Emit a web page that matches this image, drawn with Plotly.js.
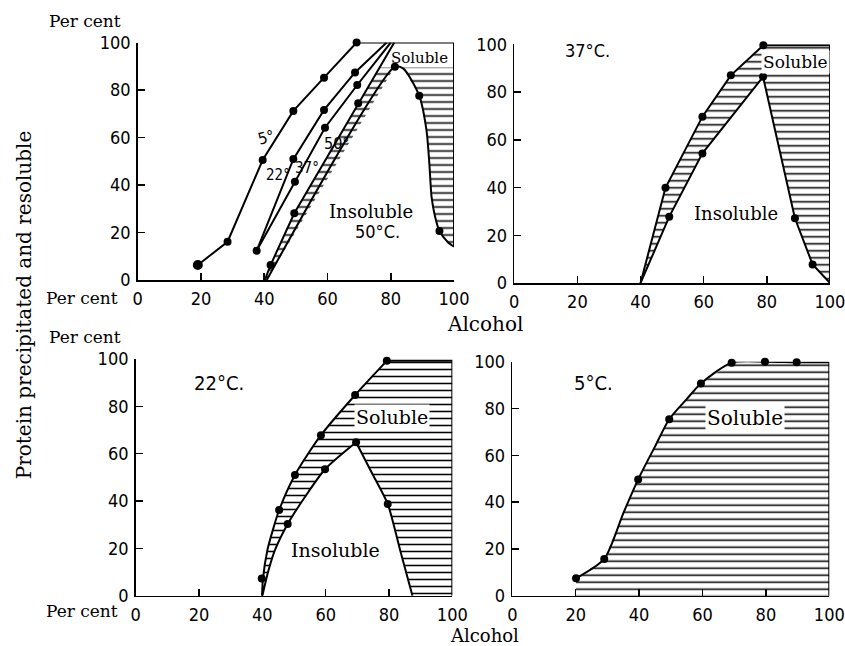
<!DOCTYPE html>
<html><head><meta charset="utf-8">
<script src="https://cdn.plot.ly/plotly-3.0.1.min.js"></script>
<style>html,body{margin:0;padding:0;background:#fff}#chart{width:845px;height:646px}</style>
</head><body><div id="chart"></div><script>
// ---------- DATA (alcohol %, protein %) ----------
var tickValues = [0, 20, 40, 60, 80, 100];
var tickLabels = ["0", "20", "40", "60", "80", "100"];

// Panel 1: precipitation curves at 5, 22, 37, 50 deg and 50 deg resolution
var p1_5_x  = [19, 28.4, 39.5, 49.2, 58.9, 69.2];
var p1_5_y  = [6.3, 16.1, 50.5, 71.2, 85.2, 100];
var p1_22_x = [37.6, 49.2, 58.9, 68.7, 78.7];
var p1_22_y = [12.3, 50.9, 71.6, 87.4, 100];
var p1_37_x = [37.6, 49.7, 59.2, 69.4, 80];
var p1_37_y = [12.3, 41.4, 64.1, 82.1, 100];
var p1_50_x = [40.2, 42, 49.5, 69.7, 81.1];
var p1_50_y = [0, 6.3, 28.1, 74.4, 100];
var p1_res_x = [40.8, 81.3, 84, 89, 91.3, 92.2, 92.9, 94, 95.4, 98, 100];
var p1_res_y = [0, 89.8, 89, 77.6, 63, 49, 35, 26.7, 20.6, 16, 14];
var p1_res_dots_x = [81.3, 89, 95.4];
var p1_res_dots_y = [89.8, 77.6, 20.6];
var p1_box_x = [69.2, 100, 100];
var p1_box_y = [100, 100, 14];
var p1_soluble_floor_x = [76.4, 100];
var p1_soluble_floor_y = [89.5, 89.5];

// Panel 2: 37 C
var p2_up_x = [40, 47.9, 59.6, 68.6, 78.9];
var p2_up_y = [0, 39.9, 69.7, 87, 99.6];
var p2_low_x = [40, 49.1, 59.6, 78.8, 88.9, 94.5, 100];
var p2_low_y = [0, 27.8, 54.3, 86.4, 27.1, 7.8, 0];
var p2_box_x = [78.9, 100, 100];
var p2_box_y = [99.6, 99.6, 0];

// Panel 3: 22 C
var p3_up_x = [39.9, 40.2, 41.6, 43.3, 45.3, 50.3, 58.5, 69.3, 79.3];
var p3_up_y = [0, 7.3, 19.3, 27.7, 36.2, 51, 67.8, 84.8, 99.2];
var p3_up_dots_x = [39.8, 45.3, 50.3, 58.5, 69.3, 79.3];
var p3_up_dots_y = [7.3, 36.2, 51, 67.8, 84.8, 99.2];
var p3_asc_x = [40, 41.8, 44, 48, 53.5, 59.8, 69.6];
var p3_asc_y = [0, 10, 19.3, 30.3, 41.8, 53.4, 64.8];
var p3_desc_x = [69.6, 74.6, 79.6, 83.5, 87.4];
var p3_desc_y = [64.8, 51.8, 38.7, 19.3, 0];
var p3_low_dots_x = [48, 59.8, 69.6, 79.6];
var p3_low_dots_y = [30.3, 53.4, 64.8, 38.7];
var p3_box_x = [79.3, 100, 100, 87.4];
var p3_box_y = [99.2, 99.2, 0, 0];

// Panel 4: 5 C
var p4_x = [20.1, 29, 35, 39.7, 45, 49.5, 55, 59.5, 69.2, 79.7, 89.7, 100];
var p4_y = [7.4, 15.7, 35.2, 49.7, 63.7, 75.4, 84, 90.7, 99.6, 100, 99.8, 99.8];
var p4_dots_x = [20.1, 29, 39.7, 49.5, 59.5, 69.2, 79.7, 89.7];
var p4_dots_y = [7.4, 15.7, 49.7, 75.4, 90.7, 99.6, 100, 99.8];
var p4_box_x = [100, 100, 20.1];
var p4_box_y = [99.8, 0, 0];

// ---------- helpers ----------
function line(xa, ya, x, y, shape, w) {
  return {x: x, y: y, xaxis: xa, yaxis: ya, type: 'scatter', mode: 'lines',
    line: {color: 'black', width: w || 2, shape: shape || 'linear', smoothing: 0.7},
    cliponaxis: false, hoverinfo: 'skip', showlegend: false};
}
function dots(xa, ya, x, y, size) {
  return {x: x, y: y, xaxis: xa, yaxis: ya, type: 'scatter', mode: 'markers',
    marker: {color: 'black', size: size || 8}, cliponaxis: false, hoverinfo: 'skip', showlegend: false};
}
function hatch(xa, ya, x, y) {
  return {x: x, y: y, xaxis: xa, yaxis: ya, type: 'scatter', mode: 'none', fill: 'toself',
    fillcolor: 'rgba(0,0,0,0)',
    fillpattern: {shape: '-', size: 7, solidity: 0.22, fgcolor: 'black', bgcolor: 'rgba(0,0,0,0)', fillmode: 'replace'},
    hoverinfo: 'skip', showlegend: false};
}
function rev(a) { return a.slice().reverse(); }

var traces = [];
traces.push(hatch('x', 'y',
  p1_50_x.slice(0, 4).concat(p1_soluble_floor_x, [100], rev(p1_res_x)),
  p1_50_y.slice(0, 4).concat(p1_soluble_floor_y, [14], rev(p1_res_y))));
traces.push(hatch('x2', 'y2', p2_up_x.concat(p2_box_x.slice(1), rev(p2_low_x)),
  p2_up_y.concat(p2_box_y.slice(1), rev(p2_low_y))));
traces.push(hatch('x3', 'y3', p3_up_x.concat(p3_box_x.slice(1), rev(p3_desc_x), rev(p3_asc_x)),
  p3_up_y.concat(p3_box_y.slice(1), rev(p3_desc_y), rev(p3_asc_y))));
traces.push(hatch('x4', 'y4', p4_x.concat(p4_box_x), p4_y.concat(p4_box_y)));

// Panel 1 lines
traces.push(line('x', 'y', p1_5_x, p1_5_y));
traces.push(line('x', 'y', p1_box_x, p1_box_y));
traces.push(line('x', 'y', p1_22_x, p1_22_y));
traces.push(line('x', 'y', p1_37_x, p1_37_y));
traces.push(line('x', 'y', p1_50_x, p1_50_y));
traces.push(line('x', 'y', p1_res_x, p1_res_y, 'spline'));
traces.push(dots('x', 'y', p1_5_x.slice(0, 1), p1_5_y.slice(0, 1), 10));
traces.push(dots('x', 'y', p1_5_x.slice(1), p1_5_y.slice(1)));
traces.push(dots('x', 'y', p1_22_x.slice(0, 4), p1_22_y.slice(0, 4)));
traces.push(dots('x', 'y', p1_37_x.slice(1, 4), p1_37_y.slice(1, 4)));
traces.push(dots('x', 'y', p1_50_x.slice(1, 4), p1_50_y.slice(1, 4)));
traces.push(dots('x', 'y', p1_res_dots_x, p1_res_dots_y));

// Panel 2 lines
traces.push(line('x2', 'y2', p2_up_x, p2_up_y));
traces.push(line('x2', 'y2', p2_box_x, p2_box_y));
traces.push(line('x2', 'y2', p2_low_x, p2_low_y));
traces.push(dots('x2', 'y2', p2_up_x.slice(1), p2_up_y.slice(1)));
traces.push(dots('x2', 'y2', p2_low_x.slice(1, 6), p2_low_y.slice(1, 6)));

// Panel 3 lines
traces.push(line('x3', 'y3', p3_up_x, p3_up_y, 'spline'));
traces.push(line('x3', 'y3', p3_box_x.slice(0, 3), p3_box_y.slice(0, 3)));
traces.push(line('x3', 'y3', p3_asc_x, p3_asc_y, 'spline'));
traces.push(line('x3', 'y3', p3_desc_x, p3_desc_y, 'spline'));
traces.push(dots('x3', 'y3', p3_up_dots_x, p3_up_dots_y));
traces.push(dots('x3', 'y3', p3_low_dots_x, p3_low_dots_y));

// Panel 4 lines
traces.push(line('x4', 'y4', p4_x, p4_y, 'spline'));
traces.push(line('x4', 'y4', [p4_x[p4_x.length - 1]].concat(p4_box_x.slice(0, 2)), [p4_y[p4_y.length - 1]].concat(p4_box_y.slice(0, 2))));
traces.push(dots('x4', 'y4', p4_dots_x, p4_dots_y));

// ---------- layout ----------
var numFont = {family: 'Liberation Sans Narrow, DejaVu Sans Condensed, Arial Narrow, sans-serif', size: 18, color: 'black'};
var serif = 'DejaVu Serif, Liberation Serif, serif';
function xax(dom, anchor) {
  return {domain: dom, anchor: anchor, range: [0, 100], tickvals: tickValues, ticktext: tickLabels,
    ticks: 'inside', ticklen: 7, tickwidth: 1.5, tickcolor: 'black', showline: true, linecolor: 'black',
    linewidth: 1.6, showgrid: false, zeroline: false, tickfont: numFont, ticklabelstandoff: 2,
    ticklabeloverflow: 'allow', fixedrange: true};
}
function yax(dom, anchor) {
  return {domain: dom, anchor: anchor, range: [0, 100], tickvals: tickValues, ticktext: tickLabels,
    ticks: 'inside', ticklen: 7, tickwidth: 1.5, tickcolor: 'black', showline: true, linecolor: 'black',
    linewidth: 1.6, showgrid: false, zeroline: false, tickfont: numFont, ticklabelstandoff: 2,
    ticklabeloverflow: 'allow', fixedrange: true};
}
function txt(xr, yr, x, y, t, size, fam, extra) {
  var a = {xref: xr, yref: yr, x: x, y: y, text: t, showarrow: false, xanchor: 'center', yanchor: 'middle',
    font: {family: fam || serif, size: size, color: 'black'}};
  if (extra) for (var k in extra) a[k] = extra[k];
  return a;
}
var annotations = [
  txt('paper', 'paper', 0.1006, 0.968, 'Per cent', 17),
  txt('paper', 'paper', 0.097, 0.5387, 'Per cent', 17),
  txt('paper', 'paper', 0.1006, 0.479, 'Per cent', 17),
  txt('paper', 'paper', 0.097, 0.0542, 'Per cent', 17),
  txt('paper', 'paper', 0.574, 0.498, 'Alcohol', 20),
  txt('paper', 'paper', 0.5728, 0.016, 'Alcohol', 18),
  txt('paper', 'paper', 0.0284, 0.529, 'Protein precipitated and resoluble', 20, serif, {textangle: -90}),
  // panel 1
  txt('x', 'y', 40.4, 60, '5°', 16, numFont.family, {textangle: -15}),
  txt('x', 'y', 44.2, 44.2, '22°', 15, numFont.family),
  txt('x', 'y', 53.6, 47, '37°', 15, numFont.family),
  txt('x', 'y', 62.9, 57.6, '50°', 16, numFont.family),
  txt('x', 'y', 89, 93.5, 'Soluble', 15),
  txt('x', 'y', 73.7, 28.8, 'Insoluble', 18),
  txt('x', 'y', 75.8, 20.3, '50°C.', 18, numFont.family),
  // panel 2
  txt('x2', 'y2', 23.2, 97.6, '37°C.', 18, numFont.family),
  txt('x2', 'y2', 89.2, 92.7, 'Soluble', 17, serif, {bgcolor: 'white'}),
  txt('x2', 'y2', 70.3, 29.2, 'Insoluble', 18),
  // panel 3
  txt('x3', 'y3', 26.4, 89.7, '22°C.', 20, numFont.family),
  txt('x3', 'y3', 80.9, 75.6, 'Soluble', 19, serif, {bgcolor: 'white'}),
  txt('x3', 'y3', 63, 19.3, 'Insoluble', 19),
  // panel 4
  txt('x4', 'y4', 25.7, 90.8, '5°C.', 20, numFont.family),
  txt('x4', 'y4', 73.4, 75.8, 'Soluble', 20, serif, {bgcolor: 'white'})
];

var layout = {
  width: 845, height: 646, margin: {l: 0, r: 0, t: 0, b: 0},
  paper_bgcolor: 'white', plot_bgcolor: 'rgba(0,0,0,0)', showlegend: false,
  xaxis: xax([0.163, 0.5373], 'y'), yaxis: yax([0.5666, 0.9342], 'x'),
  xaxis2: xax([0.6086, 0.9822], 'y2'), yaxis2: yax([0.5619, 0.9314], 'x2'),
  xaxis3: xax([0.1606, 0.5353], 'y3'), yaxis3: yax([0.0779, 0.4443], 'x3'),
  xaxis4: xax([0.6063, 0.9814], 'y4'), yaxis4: yax([0.0779, 0.4401], 'x4'),
  annotations: annotations
};
Plotly.newPlot('chart', traces, layout, {staticPlot: true, displayModeBar: false});
</script></body></html>
